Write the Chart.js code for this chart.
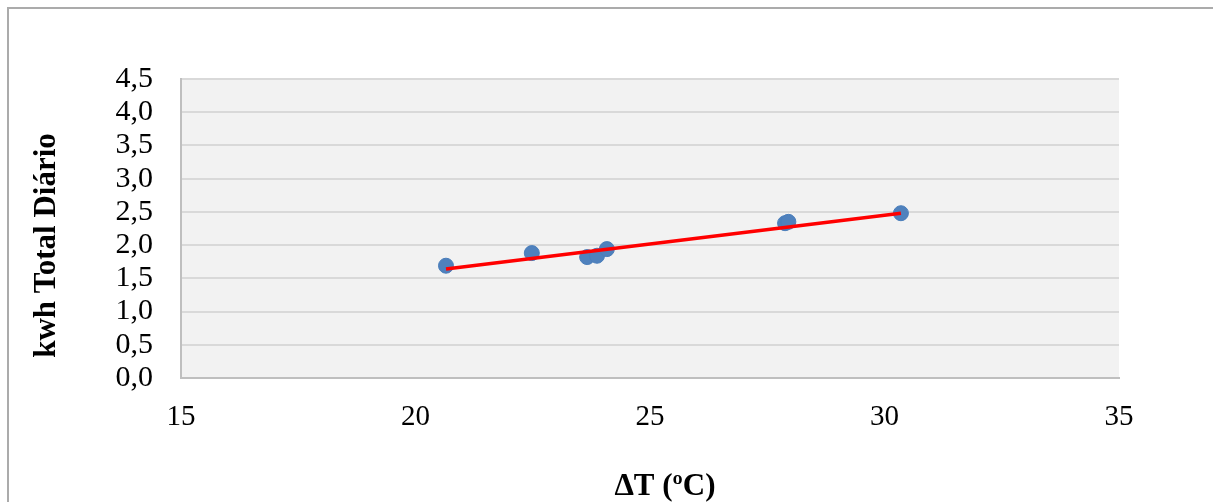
<!DOCTYPE html>
<html>
<head>
<meta charset="utf-8">
<script src="https://cdn.jsdelivr.net/npm/chart.js@4.4.1/dist/chart.umd.min.js"></script>
<style>
    html, body { margin: 0; padding: 0; background: #fff; }
    .wrap { position: relative; width: 1213px; height: 502px; overflow: hidden; }
    .frame {
        position: absolute; left: 7px; top: 7px; width: 1300px; height: 600px;
        border-top: 2px solid #ababab; border-left: 2px solid #ababab;
    }
    canvas { position: absolute; left: 0; top: 0; }
</style>
</head>
<body>
<div class="wrap">
    <div class="frame"></div>
    <canvas id="chart" width="1213" height="502"></canvas>
</div>
<script>
// measured points: deltaT vs daily kWh
const deltaT = [20.65, 22.48, 23.66, 23.87, 24.08, 27.88, 27.95, 30.35];
const kwhDaily = [1.69, 1.88, 1.82, 1.84, 1.94, 2.33, 2.35, 2.48];

// linear trend line, end points
const trendX = [20.65, 30.35];
const trendY = [1.64, 2.48];

const xTicks = [15, 20, 25, 30, 35];
const yTicks = [0, 0.5, 1, 1.5, 2, 2.5, 3, 3.5, 4, 4.5];

const xTitle = 'ΔT (ºC)';
const yTitle = 'kwh Total Diário';

const serif = 'Liberation Serif, Times New Roman, serif';

const plotBg = {
    id: 'plotBg',
    beforeDraw(chart) {
        const { ctx, chartArea } = chart;
        ctx.save();
        ctx.fillStyle = '#f2f2f2';
        ctx.fillRect(chartArea.left, chartArea.top, chartArea.width, chartArea.height);
        ctx.restore();
    },
};

// axis titles sit a bit off-centre in the original, so draw them by hand
const axisTitles = {
    id: 'axisTitles',
    afterDraw(chart) {
        const { ctx, chartArea } = chart;
        const midX = (chartArea.left + chartArea.right) / 2;
        const midY = (chartArea.top + chartArea.bottom) / 2;
        ctx.save();
        ctx.fillStyle = '#000';
        ctx.font = `bold 31px ${serif}`;
        ctx.textAlign = 'center';
        ctx.textBaseline = 'middle';
        ctx.fillText(xTitle, midX + 15, 487);
        ctx.translate(47, midY + 17);
        ctx.rotate(-Math.PI / 2);
        ctx.fillText(yTitle, 0, 0);
        ctx.restore();
    },
};

const ctx = document.getElementById('chart').getContext('2d');

new Chart(ctx, {
    type: 'scatter',
    data: {
        datasets: [
            {
                label: 'kwh',
                data: deltaT.map((x, i) => ({ x, y: kwhDaily[i] })),
                backgroundColor: '#4f81bd',
                borderColor: '#4a7ebb',
                pointRadius: 7.5,
                order: 1,
            },
            {
                label: 'trend',
                type: 'line',
                data: trendX.map((x, i) => ({ x, y: trendY[i] })),
                borderColor: '#ff0000',
                borderWidth: 3.5,
                pointRadius: 0,
                fill: false,
                order: 0,
            },
        ],
    },
    plugins: [plotBg, axisTitles],
    options: {
        responsive: false,
        animation: false,
        layout: { padding: { left: 0, right: 94, top: 79, bottom: 0 } },
        plugins: {
            legend: { display: false },
            tooltip: { enabled: false },
        },
        scales: {
            x: {
                type: 'linear',
                min: 15,
                max: 35,
                afterBuildTicks: (scale) => { scale.ticks = xTicks.map((v) => ({ value: v })); },
                afterFit: (scale) => { scale.height = 124; },
                grid: { display: false, drawTicks: false },
                border: { display: true, color: '#bfbfbf', width: 2 },
                ticks: {
                    color: '#000',
                    padding: 22,
                    font: { family: serif, size: 29 },
                },
            },
            y: {
                min: 0,
                max: 4.5,
                afterBuildTicks: (scale) => { scale.ticks = yTicks.map((v) => ({ value: v })); },
                afterFit: (scale) => { scale.width = 181; },
                grid: { color: '#d9d9d9', lineWidth: 2, drawTicks: false },
                border: { display: true, color: '#bfbfbf', width: 2 },
                ticks: {
                    color: '#000',
                    padding: 28,
                    autoSkip: false,
                    font: { family: serif, size: 30 },
                    callback: (v) => v.toFixed(1).replace('.', ','),
                },
            },
        },
    },
});
</script>
</body>
</html>
